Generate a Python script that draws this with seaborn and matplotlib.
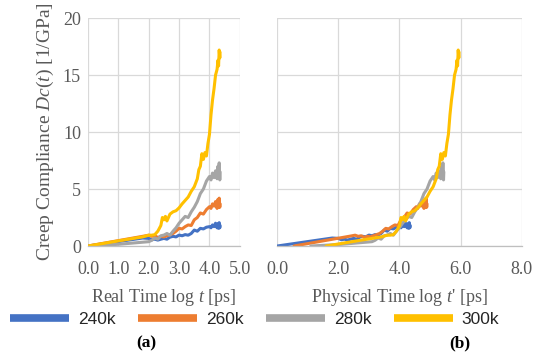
import numpy as np
import pandas as pd
import matplotlib
matplotlib.use("Agg")
import matplotlib.pyplot as plt
import seaborn as sns

# ---------------- data ----------------
labels = ["240k", "260k", "280k", "300k"]
colors = ["#4472C4", "#ED7D31", "#A5A5A5", "#FFC000"]

x_240 = [0, 1.8, 2.0, 2.1, 2.2, 2.3, 2.4, 2.5, 2.6, 2.7, 2.8, 2.9, 3.0, 3.1, 3.2, 3.3,
         3.4, 3.5, 3.6, 3.7, 3.8, 3.9, 4.0, 4.05, 4.1, 4.15, 4.2, 4.25, 4.28, 4.3, 4.32, 4.34, 4.35]
y_240 = [0, 0.7, 0.67, 0.55, 0.6, 0.52, 0.6, 0.67, 0.6, 0.78, 0.85, 0.8, 0.96, 0.9, 1.0, 0.95,
         1.1, 1.4, 1.3, 1.55, 1.5, 1.65, 1.7, 1.6, 1.85, 1.7, 2.0, 1.6, 1.95, 1.55, 2.05, 1.6, 1.8]

x_260 = [0, 1.8, 2.0, 2.1, 2.2, 2.3, 2.4, 2.5, 2.6, 2.7, 2.8, 2.9, 3.0, 3.1, 3.2, 3.3,
         3.4, 3.5, 3.6, 3.7, 3.8, 3.9, 4.0, 4.05, 4.1, 4.15, 4.2, 4.25, 4.28, 4.3, 4.32, 4.34, 4.35]
y_260 = [0, 0.85, 0.95, 0.85, 0.9, 0.75, 0.85, 0.8, 0.9, 1.0, 1.1, 1.3, 1.55, 1.5, 1.7, 1.85,
         1.8, 2.3, 2.5, 2.9, 2.8, 3.2, 3.45, 3.3, 3.7, 3.5, 3.9, 3.3, 4.1, 3.4, 4.2, 3.4, 3.7]

x_280 = [0, 1.0, 2.0, 2.1, 2.2, 2.3, 2.4, 2.5, 2.6, 2.7, 2.8, 2.9, 3.0, 3.1, 3.2, 3.3,
         3.4, 3.5, 3.6, 3.7, 3.8, 3.9, 4.0, 4.05, 4.1, 4.15, 4.2, 4.25, 4.28, 4.3, 4.32, 4.34, 4.35]
y_280 = [0, 0.15, 0.38, 0.5, 0.7, 0.6, 0.9, 0.96, 1.1, 0.95, 1.3, 1.6, 2.0, 2.3, 2.6, 2.5,
         3.0, 3.4, 3.9, 4.6, 5.0, 5.7, 6.1, 5.8, 6.4, 6.0, 6.6, 5.9, 7.0, 6.0, 7.3, 5.8, 6.5]

x_300 = [0, 1.0, 1.8, 2.0, 2.1, 2.2, 2.3, 2.4, 2.45, 2.5, 2.55, 2.6, 2.7, 2.8, 2.9, 3.0,
         3.1, 3.2, 3.3, 3.4, 3.5, 3.6, 3.65, 3.7, 3.75, 3.8, 3.85, 3.9, 3.95, 4.0, 4.05,
         4.1, 4.15, 4.2, 4.25, 4.28, 4.3, 4.32, 4.34, 4.35]
y_300 = [0, 0.45, 0.8, 0.95, 0.95, 1.0, 1.3, 1.8, 2.5, 2.3, 2.6, 2.2, 2.8, 3.0, 3.1, 3.35,
         3.7, 4.0, 4.3, 4.8, 5.2, 5.9, 6.7, 7.0, 8.1, 7.6, 8.2, 7.9, 9.0, 9.8, 11.5,
         12.8, 13.8, 15.0, 15.5, 16.3, 15.8, 17.2, 16.5, 17.0]

# horizontal shift factors log(a_T) used for the physical-time panel
log_shift = [0.0, 0.55, 1.1, 1.6]

xticks_a = [0.0, 1.0, 2.0, 3.0, 4.0, 5.0]
xticks_b = [0.0, 2.0, 4.0, 6.0, 8.0]
yticks = [0, 5, 10, 15, 20]

xs = [x_240, x_260, x_280, x_300]
ys = [y_240, y_260, y_280, y_300]

rows = []
for lab, x, y, sh in zip(labels, xs, ys, log_shift):
    for xi, yi in zip(x, y):
        rows.append({"T": lab, "real": xi, "phys": xi + sh, "D": yi})
df = pd.DataFrame(rows)

# ---------------- style ----------------
sns.set_theme(style="white")
serif = ["Liberation Serif", "DejaVu Serif"]
plt.rcParams["font.family"] = serif
plt.rcParams["mathtext.fontset"] = "custom"
plt.rcParams["mathtext.rm"] = "Liberation Serif"
plt.rcParams["mathtext.it"] = "Liberation Serif:italic"

txt = "#595959"
grid_c = "#D9D9D9"

fig = plt.figure(figsize=(5.33, 3.55), dpi=100)
ax1 = fig.add_axes([0.165, 0.307, 0.285, 0.642])
ax2 = fig.add_axes([0.520, 0.307, 0.459, 0.642])

pal = dict(zip(labels, colors))
sns.lineplot(data=df, x="real", y="D", hue="T", palette=pal, sort=False,
             estimator=None, lw=2.2, ax=ax1, legend=False)
sns.lineplot(data=df, x="phys", y="D", hue="T", palette=pal, sort=False,
             estimator=None, lw=2.2, ax=ax2, legend=False)

ax1.set_xlim(0, 5)
ax2.set_xlim(0, 8)
ax1.set_xticks(xticks_a, labels=[f"{v:.1f}" for v in xticks_a], fontfamily=serif)
ax2.set_xticks(xticks_b, labels=[f"{v:.1f}" for v in xticks_b], fontfamily=serif)
for ax in (ax1, ax2):
    ax.set_ylim(0, 20)
    ax.set_yticks(yticks, labels=[str(v) for v in yticks], fontfamily=serif)
    ax.grid(True, color=grid_c, lw=0.9)
    for s in ["top", "right", "left"]:
        ax.spines[s].set_visible(False)
    ax.spines["bottom"].set_color("#BFBFBF")
    ax.spines["bottom"].set_linewidth(0.9)
    ax.tick_params(axis="both", length=0, labelsize=13, labelcolor=txt)
    ax.tick_params(axis="x", pad=11)
    ax.tick_params(axis="y", pad=5)
    ax.set_axisbelow(True)

ax2.tick_params(axis="y", labelleft=False)
ax2.set_ylabel("")

ax1.set_ylabel(r"Creep Compliance $Dc$($t$) [1/GPa]", fontsize=14, color=txt, labelpad=5,
               fontfamily=serif)
ax1.set_xlabel(r"Real Time log $t$ [ps]", fontsize=13, color=txt, labelpad=6, fontfamily=serif)
ax2.set_xlabel(r"Physical Time log $t$' [ps]", fontsize=13, color=txt, labelpad=6, fontfamily=serif)

handles = [matplotlib.lines.Line2D([], [], color=c, lw=5.5, solid_capstyle="butt") for c in colors]
leg = fig.legend(handles, labels, loc="center", bbox_to_anchor=(0.478, 0.100), ncol=4,
                 frameon=False, handlelength=3.4, handletextpad=0.5, columnspacing=1.3,
                 prop={"family": "Liberation Sans", "size": 12.5})
for t in leg.get_texts():
    t.set_color("#262626")

fig.text(0.274, 0.034, "(a)", ha="center", va="center", fontsize=12.5, fontweight="bold",
         color="black", fontfamily=serif)
fig.text(0.863, 0.034, "(b)", ha="center", va="center", fontsize=12.5, fontweight="bold",
         color="black", fontfamily=serif)

fig.savefig("out.png", dpi=100)
